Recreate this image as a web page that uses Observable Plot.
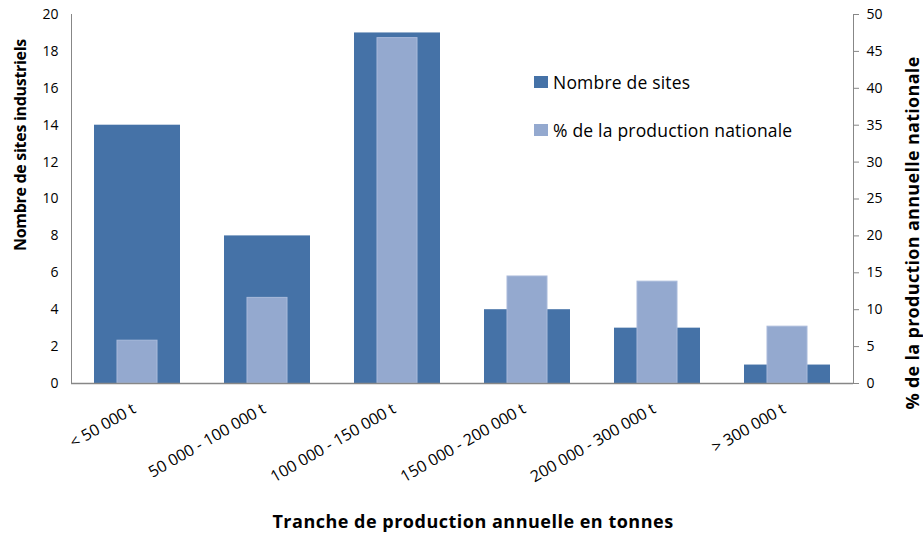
<!DOCTYPE html>
<html>
<head>
<meta charset="utf-8">
<script src="https://cdn.jsdelivr.net/npm/d3@7"></script>
<script src="https://cdn.jsdelivr.net/npm/@observablehq/plot@0.6"></script>
<style>
  html, body { margin: 0; padding: 0; background: #fff; }
  #wrap { position: relative; width: 923px; height: 536px; font-family: "Open Sans", Lato, sans-serif; color: #000; }
  .title { position: absolute; font-weight: bold; white-space: nowrap; }
  .legend { position: absolute; left: 534px; font-size: 17.5px; white-space: nowrap; display: flex; align-items: center; letter-spacing: 0.2px; }
  .legend span.sw { display: inline-block; width: 14px; height: 12px; margin-right: 5px; }
</style>
</head>
<body>
<div id="wrap"></div>
<script>
const categories = ["< 50 000 t", "50 000 - 100 000 t", "100 000 - 150 000 t", "150 000 - 200 000 t", "200 000 - 300 000 t", "> 300 000 t"];
const sites = [14, 8, 19, 4, 3, 1];
const pctProduction = [5.8, 11.6, 46.8, 14.5, 13.8, 7.7];
const leftTicks = [0, 2, 4, 6, 8, 10, 12, 14, 16, 18, 20];
const rightTicks = [0, 5, 10, 15, 20, 25, 30, 35, 40, 45, 50];
const seriesNames = ["Nombre de sites", "% de la production nationale"];
const colors = ["#4572A7", "#94A9CF"];
const ratio = 20 / 50;

const rows = categories.map((c, i) => ({cat: c, sites: sites[i], pct: pctProduction[i]}));

const chart = Plot.plot({
  width: 923,
  height: 536,
  marginTop: 14,
  marginBottom: 153,
  marginLeft: 71,
  marginRight: 70,
  style: {fontFamily: "'Open Sans', Lato, sans-serif", fontSize: "13px", color: "#000", background: "#fff"},
  x: {domain: categories, padding: 0},
  y: {domain: [0, 20]},
  marks: [
    Plot.barY(rows, {x: "cat", y: "sites", fill: colors[0], insetLeft: 22, insetRight: 22}),
    Plot.barY(rows, {x: "cat", y: d => d.pct * ratio, fill: colors[1], stroke: "#a9badb", strokeWidth: 1, insetLeft: 45, insetRight: 45}),
    Plot.ruleY([0], {stroke: "#878787", strokeWidth: 1.5}),
    Plot.frame({anchor: "left", stroke: "#878787"}),
    Plot.frame({anchor: "right", stroke: "#878787"}),
    Plot.axisY(leftTicks, {anchor: "left", tickSize: 0, tickPadding: 13, label: null, fontSize: 14}),
    Plot.axisY(rightTicks.map(v => v * ratio), {anchor: "right", tickSize: 5, tickPadding: 8, stroke: "#878787", tickFormat: d => Math.round(d / ratio), label: null, fontSize: 14}),
    Plot.axisX({tickSize: 0, tickPadding: 24, dx: -3, tickRotate: -30, label: null, fontSize: 16})
  ]
});

const wrap = document.getElementById("wrap");
wrap.appendChild(chart);

function addDiv(cls, html, css) {
  const d = document.createElement("div");
  d.className = cls;
  d.innerHTML = html;
  Object.assign(d.style, css);
  wrap.appendChild(d);
  return d;
}
addDiv("title", "Tranche de production annuelle en tonnes", {left: "473px", top: "521px", fontSize: "18px", letterSpacing: "0.5px", transform: "translate(-50%, -50%)"});
addDiv("title", "Nombre de sites industriels", {left: "20px", top: "145px", fontSize: "16px", letterSpacing: "-0.3px", transform: "translate(-50%, -50%) rotate(-90deg)"});
addDiv("title", "% de la production annuelle nationale", {left: "912px", top: "233px", fontSize: "18px", letterSpacing: "0.3px", transform: "translate(-50%, -50%) rotate(-90deg)"});
seriesNames.forEach((n, i) => {
  addDiv("legend", `<span class="sw" style="background:${colors[i]}"></span>${n}`, {top: (82 + i * 48) + "px", transform: "translateY(-50%)"});
});
</script>
</body>
</html>
